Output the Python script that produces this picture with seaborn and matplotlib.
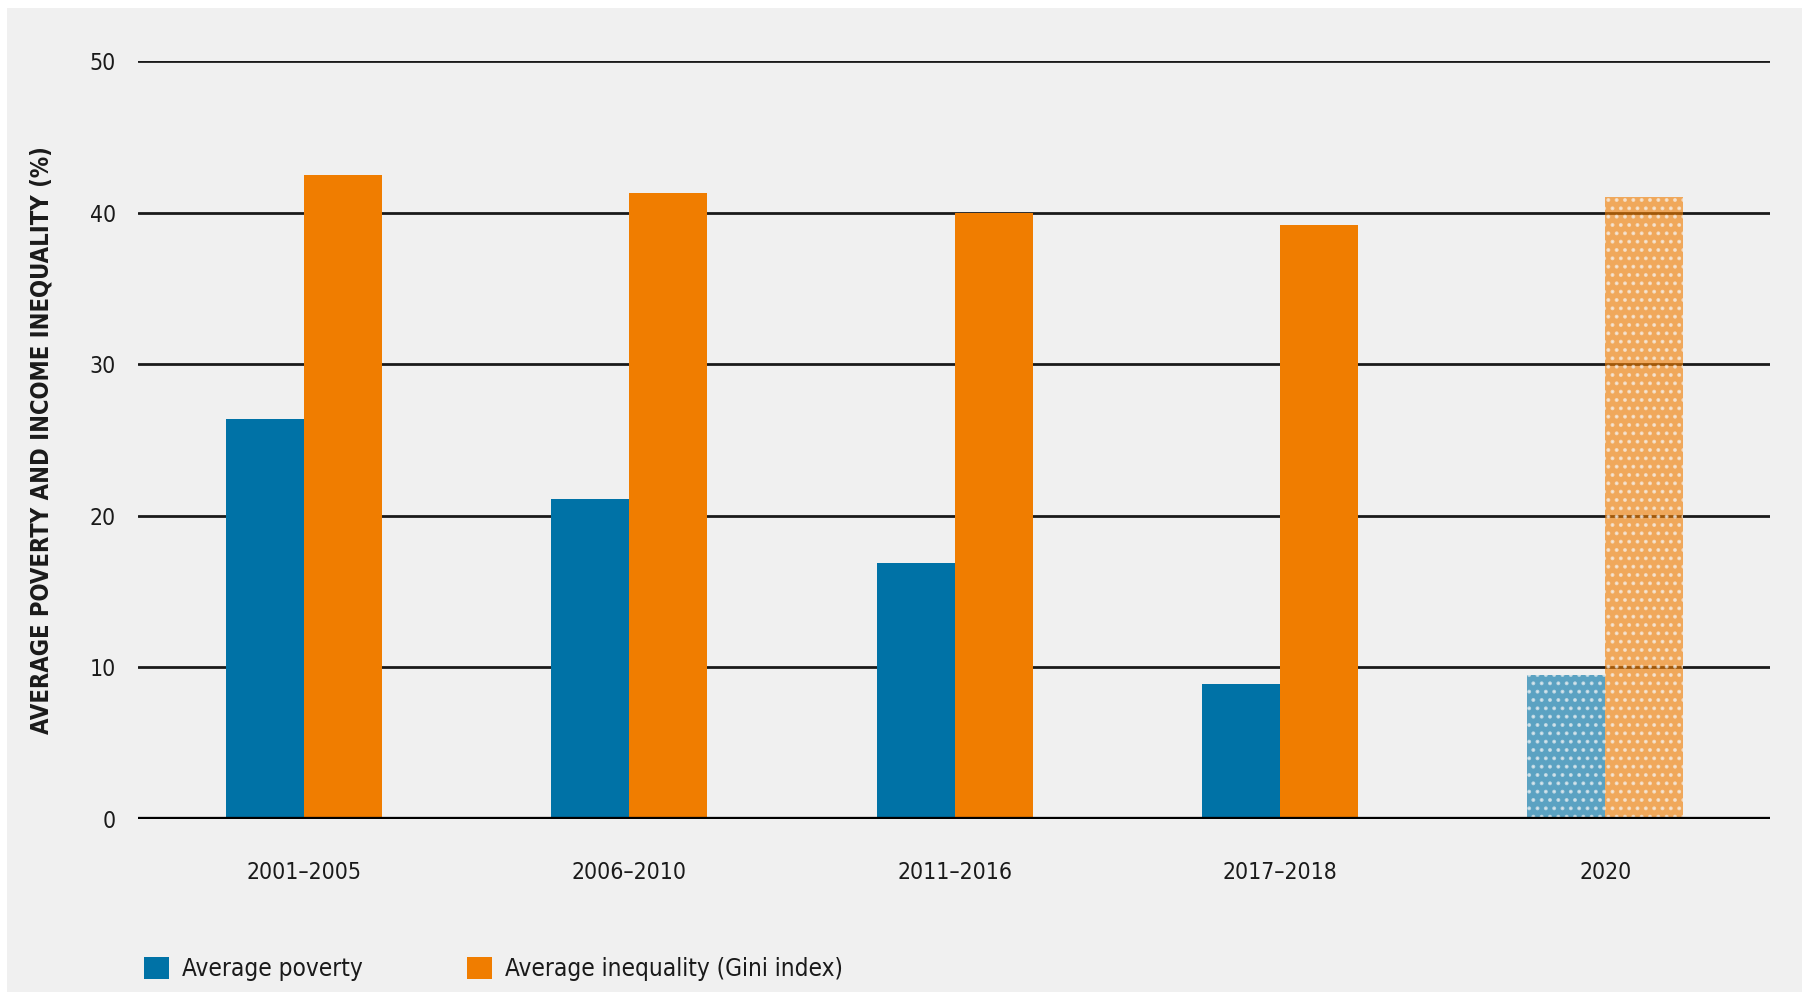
import matplotlib
matplotlib.use('Agg')
import matplotlib.pyplot as plt
import seaborn as sns
import pandas as pd
from matplotlib.patches import Patch, Rectangle

periods = ['2001–2005', '2006–2010', '2011–2016', '2017–2018', '2020']
poverty = [26.4, 21.1, 16.9, 8.9, 9.5]
inequality = [42.5, 41.3, 40.0, 39.2, 41.0]
series_names = ['Average poverty', 'Average inequality (Gini index)']
colors = ['#0072a6', '#f07d00']
projected = ['2020']

df = pd.DataFrame({
    'period': periods * 2,
    'value': poverty + inequality,
    'series': [series_names[0]] * len(periods) + [series_names[1]] * len(periods),
})

sns.set_theme(style='white')
plt.rcParams['font.family'] = ['DejaVu Sans']
plt.rcParams['font.stretch'] = 'condensed'
plt.rcParams['hatch.linewidth'] = 1.6

fig = plt.figure(figsize=(18.02, 10), dpi=100, facecolor='white')
fig.patches.append(Rectangle((0.004, 0.008), 0.996, 0.984, transform=fig.transFigure,
                             facecolor='#f0f0f0', edgecolor='none', zorder=-10))
ax = fig.add_axes([0.0766, 0.181, 0.9054, 0.758])
ax.set_facecolor('#f0f0f0')

sns.barplot(data=df, x='period', y='value', hue='series', order=periods,
            hue_order=series_names, palette=colors, width=0.48, gap=0,
            saturation=1, ax=ax, legend=False, zorder=3, linewidth=0)

# lighter dotted bars for the projected year
proj_idx = [periods.index(p) for p in projected]
for bar in ax.patches:
    cx = bar.get_x() + bar.get_width() / 2
    if any(abs(cx - i) < 0.4 for i in proj_idx):
        bar.set_alpha(0.62)
        bar.set_hatch('..')
        bar.set_edgecolor('#f6f6f6')
        bar.set_linewidth(0)

ax.set_ylim(0, 50)
ax.set_xlim(-0.51, len(periods) - 1 + 0.505)
ax.set_yticks([0, 10, 20, 30, 40, 50])
for y in [10, 20, 30, 40, 50]:
    ax.axhline(y, color='#1a1a1a', lw=2.0, zorder=2)
ax.axhline(0, color='black', lw=3.8, zorder=5)
for s in ax.spines.values():
    s.set_visible(False)

ax.tick_params(axis='both', length=0, labelsize=16.5, colors='#1a1a1a')
ax.tick_params(axis='x', pad=30)
ax.tick_params(axis='y', pad=16)
ax.set_xlabel('')
ax.set_ylabel('AVERAGE POVERTY AND INCOME INEQUALITY (%)', fontsize=17,
              fontweight='bold', color='#1a1a1a')
ax.yaxis.set_label_coords(-0.052, 0.5)

handles = [Patch(facecolor=c, edgecolor='none') for c in colors]
fig.legend(handles, series_names, loc='center left', bbox_to_anchor=(0.068, 0.031),
           ncol=2, frameon=False, fontsize=17.5, handlelength=1.0, handleheight=1.0,
           handletextpad=0.55, columnspacing=4.3, labelcolor='#1a1a1a')

fig.savefig('out.png', dpi=100, facecolor='white')
